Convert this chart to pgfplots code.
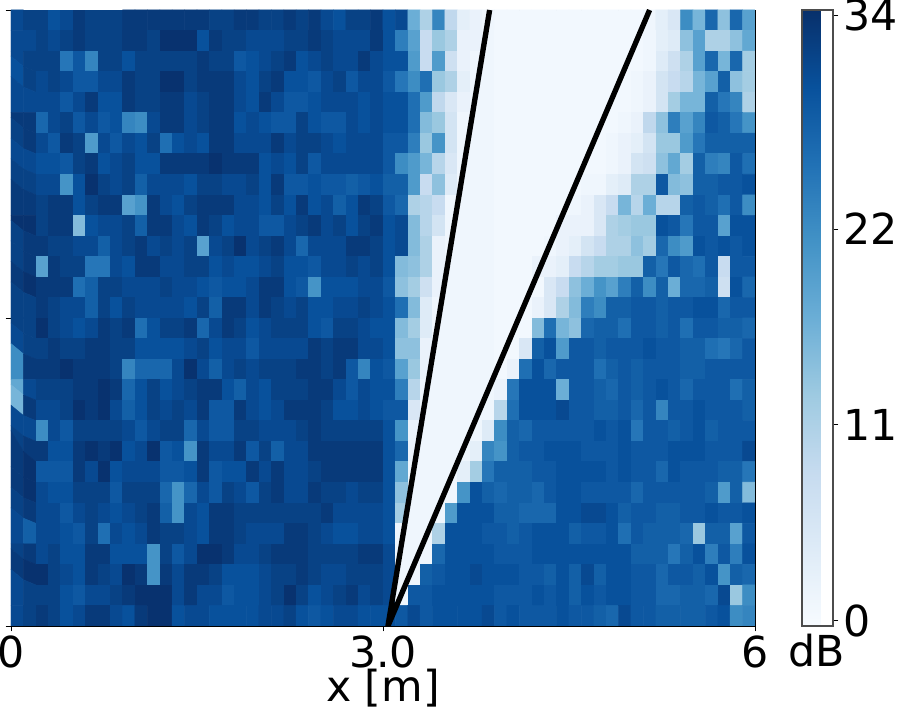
\documentclass[border=0pt]{standalone}
\usepackage{pgfplots}
\pgfplotsset{compat=1.18}
\usepackage{fontspec}
\setmainfont{DejaVu Sans}
\pgfplotsset{colormap={mplblues}{rgb255=(247,251,255) rgb255=(222,235,247) rgb255=(198,219,239) rgb255=(158,202,225) rgb255=(107,174,214) rgb255=(66,146,198) rgb255=(33,113,181) rgb255=(8,81,156) rgb255=(8,48,107)}}
\newcommand{\bigfont}{\fontsize{32}{36}\selectfont}
\begin{document}
\begin{tikzpicture}[x=1pt,y=1pt]
\path[use as bounding box] (0,0) rectangle (672.75,543);
\begin{axis}[
    at={(8.25pt,73.5pt)}, anchor=south west,
    scale only axis, width=558pt, height=462pt,
    xmin=0, xmax=6, ymin=0, ymax=30,
    xtick={0,3,6}, xticklabels={0,3.0,6},
    ytick={0,15,30}, yticklabels={},
    xtick pos=bottom, ytick pos=left,
    tick align=outside, major tick length=4pt,
    tick style={black, line width=0.6pt},
    axis line style={line width=0.6pt},
    tick label style={font=\bigfont},
    /pgf/number format/assume math mode=true,
    xlabel={x [m]}, xlabel style={font=\bigfont, yshift=6pt},
    colormap name=mplblues,
    point meta min=-0.3, point meta max=34.3,
    colorbar,
    colorbar style={
        at={(1.0632,1)}, anchor=north west,
        width=23.25pt, height=462pt,
        ytick={0,11,22,34},
        ytick pos=right, yticklabel pos=right,
        tick align=outside, major tick length=4pt,
        tick style={black, line width=0.6pt},
        axis line style={line width=0.8pt, black!70},
        tick label style={font=\bigfont},
        /pgf/number format/assume math mode=true,
    },
]
\addplot[matrix plot*, mesh/cols=60, mesh/rows=30, point meta=explicit]
  table[row sep=crcr, header=false, meta index=0,
        x expr={(mod(\coordindex,60)+0.5)/10},
        y expr={29.5-floor(\coordindex/60)}] {
31\\32\\32\\30\\31\\33\\32\\32\\32\\33\\33\\33\\33\\33\\33\\33\\32\\32\\33\\33\\32\\32\\33\\32\\33\\31\\30\\32\\32\\33\\30\\31\\17\\11\\23\\9\\3\\2\\1\\0.5\\0.5\\0.5\\0.5\\0.5\\0.5\\0.5\\0.5\\0.5\\0.5\\0.5\\0.5\\1\\3\\5\\22\\16\\27\\14\\27\\19\\
31\\31\\32\\31\\32\\33\\32\\32\\32\\33\\33\\32\\34\\34\\34\\30\\33\\32\\32\\31\\31\\31\\32\\32\\33\\32\\31\\31\\31\\33\\30\\24\\19\\8\\13\\11\\2\\2\\1\\0.5\\0.5\\0.5\\0.5\\0.5\\0.5\\0.5\\0.5\\0.5\\0.5\\0.5\\0.5\\1\\3\\4\\14\\19\\11\\11\\14\\18\\
31\\32\\32\\32\\25\\29\\23\\32\\32\\30\\32\\32\\32\\32\\32\\33\\32\\32\\29\\30\\31\\32\\33\\30\\31\\32\\31\\31\\33\\31\\30\\30\\20\\8\\20\\7\\2\\1\\1\\0.5\\0.5\\0.5\\0.5\\0.5\\0.5\\0.5\\0.5\\0.5\\0.5\\0.5\\0.5\\1\\4\\7\\11\\19\\27\\16\\27\\12\\
30\\32\\31\\32\\31\\29\\29\\31\\31\\33\\32\\32\\34\\34\\32\\33\\33\\33\\31\\30\\32\\33\\30\\30\\29\\31\\32\\29\\31\\31\\29\\25\\22\\26\\13\\11\\3\\1\\1\\0.5\\0.5\\0.5\\0.5\\0.5\\0.5\\0.5\\0.5\\0.5\\0.5\\0.5\\1\\2\\6\\8\\10\\16\\19\\28\\14\\12\\
31\\31\\31\\31\\29\\31\\33\\30\\30\\33\\32\\32\\33\\33\\31\\32\\33\\33\\31\\30\\33\\31\\29\\29\\30\\31\\31\\31\\30\\31\\30\\30\\26\\20\\9\\5\\2\\1\\1\\0.5\\0.5\\0.5\\0.5\\0.5\\0.5\\0.5\\0.5\\0.5\\0.5\\0.5\\1\\2\\6\\12\\16\\16\\28\\25\\23\\11\\
33\\33\\27\\31\\32\\29\\31\\29\\30\\23\\22\\31\\33\\33\\31\\32\\33\\33\\30\\31\\30\\29\\29\\32\\30\\29\\29\\31\\30\\31\\30\\30\\26\\15\\13\\6\\1\\1\\1\\0.5\\0.5\\0.5\\0.5\\0.5\\0.5\\0.5\\0.5\\0.5\\0.5\\1\\2\\9\\14\\24\\19\\23\\29\\28\\25\\21\\
32\\33\\31\\29\\33\\32\\20\\31\\29\\31\\30\\32\\26\\30\\31\\30\\33\\33\\31\\31\\31\\33\\31\\32\\32\\31\\30\\31\\31\\31\\29\\29\\24\\13\\21\\6\\1\\1\\1\\0.5\\0.5\\0.5\\0.5\\0.5\\0.5\\0.5\\0.5\\0.5\\1\\2\\3\\6\\13\\13\\20\\25\\28\\28\\28\\28\\
31\\31\\30\\30\\29\\32\\33\\30\\31\\32\\30\\30\\33\\33\\33\\33\\34\\33\\33\\33\\30\\31\\30\\32\\29\\31\\31\\31\\31\\31\\29\\22\\20\\16\\10\\5\\1\\1\\1\\0.5\\0.5\\0.5\\0.5\\0.5\\0.5\\0.5\\0.5\\0.5\\1\\2\\6\\7\\14\\18\\12\\28\\24\\23\\29\\26\\
32\\32\\31\\31\\21\\30\\34\\32\\31\\32\\28\\31\\31\\31\\30\\32\\32\\31\\31\\32\\30\\33\\29\\29\\30\\29\\29\\28\\29\\30\\28\\28\\20\\8\\14\\4\\1\\1\\1\\0.5\\0.5\\0.5\\0.5\\0.5\\0.5\\0.5\\1\\1\\3\\4\\11\\11\\29\\15\\14\\28\\28\\29\\29\\30\\
33\\33\\32\\33\\33\\30\\32\\33\\33\\19\\21\\33\\31\\30\\32\\33\\33\\33\\31\\31\\30\\32\\30\\33\\30\\31\\28\\30\\33\\32\\29\\27\\11\\10\\8\\1\\1\\1\\1\\0.5\\0.5\\0.5\\0.5\\0.5\\0.5\\1\\2\\5\\8\\16\\10\\17\\10\\10\\28\\29\\28\\26\\29\\22\\
34\\34\\32\\33\\33\\15\\30\\31\\31\\32\\28\\33\\33\\31\\30\\33\\32\\30\\31\\31\\29\\29\\31\\32\\33\\31\\32\\30\\32\\33\\30\\31\\15\\10\\6\\1\\1\\1\\1\\0.5\\0.5\\0.5\\0.5\\0.5\\2\\2\\2\\5\\11\\12\\13\\13\\30\\29\\25\\29\\29\\19\\30\\30\\
32\\33\\33\\32\\32\\31\\31\\28\\31\\32\\33\\31\\32\\31\\32\\19\\31\\32\\34\\31\\32\\33\\31\\27\\31\\31\\31\\33\\33\\32\\30\\31\\15\\11\\2\\1\\1\\1\\1\\0.5\\0.5\\0.5\\0.5\\1\\2\\3\\6\\8\\11\\11\\14\\12\\27\\22\\20\\30\\29\\30\\29\\30\\
32\\33\\19\\33\\32\\32\\25\\25\\31\\30\\33\\33\\31\\31\\32\\32\\30\\31\\30\\30\\31\\32\\30\\30\\29\\31\\31\\32\\31\\32\\30\\15\\14\\11\\2\\1\\1\\1\\1\\0.5\\0.5\\0.5\\2\\2\\3\\8\\10\\12\\12\\13\\13\\28\\25\\29\\27\\26\\29\\8\\29\\29\\
33\\34\\33\\33\\33\\26\\28\\32\\32\\31\\31\\31\\32\\31\\31\\30\\29\\30\\30\\31\\33\\33\\30\\29\\21\\30\\30\\30\\31\\31\\29\\14\\12\\7\\2\\1\\1\\1\\1\\0.5\\0.5\\0.5\\0.5\\5\\8\\14\\17\\21\\19\\24\\28\\22\\28\\17\\27\\27\\28\\7\\30\\27\\
32\\32\\33\\32\\31\\31\\28\\32\\30\\32\\31\\31\\31\\31\\30\\32\\28\\33\\33\\31\\33\\32\\31\\32\\30\\30\\31\\31\\32\\31\\30\\26\\15\\4\\1\\1\\1\\1\\1\\0.5\\0.5\\0.5\\2\\5\\11\\15\\24\\22\\28\\28\\29\\29\\28\\29\\29\\30\\30\\27\\29\\29\\
32\\32\\34\\32\\31\\30\\31\\33\\32\\33\\26\\30\\32\\32\\33\\27\\31\\33\\32\\30\\31\\32\\32\\32\\30\\29\\32\\32\\31\\30\\30\\15\\12\\4\\1\\1\\1\\1\\1\\0.5\\0.5\\0.5\\15\\26\\16\\14\\27\\28\\28\\26\\29\\29\\28\\29\\26\\29\\29\\28\\28\\27\\
31\\32\\32\\33\\32\\32\\33\\33\\32\\32\\30\\30\\30\\30\\31\\32\\30\\31\\31\\29\\31\\31\\31\\31\\33\\32\\33\\33\\31\\31\\30\\14\\14\\2\\1\\1\\1\\1\\1\\0.5\\0.5\\5\\28\\30\\20\\29\\29\\28\\29\\29\\29\\30\\29\\29\\28\\28\\26\\25\\27\\29\\
22\\33\\33\\33\\34\\33\\33\\33\\32\\23\\27\\27\\27\\31\\34\\31\\28\\31\\32\\31\\32\\32\\32\\33\\33\\32\\33\\29\\23\\30\\29\\19\\13\\2\\1\\1\\1\\1\\1\\0.5\\2\\26\\30\\27\\29\\29\\29\\26\\28\\29\\28\\29\\29\\29\\28\\28\\29\\29\\29\\29\\
18\\31\\32\\32\\32\\33\\33\\34\\33\\27\\30\\32\\30\\31\\32\\33\\33\\30\\28\\31\\30\\32\\32\\32\\33\\33\\31\\29\\31\\30\\30\\24\\10\\1\\1\\1\\1\\1\\1\\2\\25\\30\\30\\30\\17\\29\\29\\28\\27\\29\\28\\29\\30\\29\\27\\29\\29\\29\\26\\28\\
16\\33\\31\\31\\32\\34\\33\\34\\31\\28\\30\\32\\31\\32\\31\\33\\29\\29\\33\\31\\30\\31\\33\\33\\33\\32\\30\\30\\31\\30\\29\\29\\5\\1\\1\\1\\1\\1\\1\\10\\26\\30\\30\\30\\31\\29\\29\\28\\28\\29\\27\\29\\23\\29\\29\\30\\29\\29\\29\\28\\
31\\31\\22\\31\\29\\32\\32\\32\\32\\31\\29\\31\\32\\32\\27\\31\\29\\29\\32\\32\\31\\31\\31\\32\\33\\32\\32\\32\\32\\32\\30\\21\\2\\1\\1\\1\\1\\1\\4\\22\\28\\27\\29\\29\\29\\29\\29\\30\\29\\30\\25\\29\\29\\28\\29\\30\\28\\29\\29\\29\\
32\\33\\33\\30\\30\\33\\34\\33\\34\\30\\31\\34\\29\\30\\21\\33\\31\\31\\33\\29\\32\\28\\31\\31\\33\\33\\33\\33\\33\\33\\30\\27\\2\\1\\1\\1\\1\\3\\23\\21\\28\\29\\29\\30\\30\\30\\29\\29\\29\\30\\29\\29\\29\\30\\30\\30\\29\\29\\29\\31\\
33\\34\\29\\29\\29\\33\\31\\34\\30\\31\\31\\31\\29\\29\\30\\33\\29\\30\\30\\33\\31\\33\\31\\31\\32\\33\\33\\33\\33\\33\\30\\18\\1\\1\\1\\1\\3\\12\\25\\28\\28\\28\\29\\29\\30\\30\\30\\30\\29\\30\\29\\29\\27\\30\\29\\29\\29\\28\\28\\25\\
33\\34\\31\\30\\30\\32\\32\\32\\29\\32\\32\\32\\27\\21\\27\\31\\29\\32\\31\\29\\32\\33\\31\\31\\33\\32\\32\\31\\32\\32\\30\\14\\1\\1\\1\\1\\21\\30\\28\\27\\28\\28\\27\\29\\30\\30\\29\\29\\29\\29\\27\\29\\29\\29\\29\\29\\28\\20\\28\\15\\
32\\33\\31\\31\\29\\31\\32\\31\\30\\31\\32\\33\\28\\21\\31\\30\\33\\33\\32\\32\\32\\32\\32\\32\\32\\33\\31\\31\\31\\31\\30\\12\\1\\1\\1\\20\\30\\30\\30\\28\\28\\27\\27\\27\\30\\30\\31\\31\\30\\28\\29\\29\\28\\28\\29\\29\\30\\29\\29\\30\\
31\\28\\31\\31\\30\\29\\32\\26\\31\\30\\31\\33\\32\\32\\31\\30\\33\\33\\32\\31\\31\\31\\33\\33\\32\\31\\30\\30\\31\\31\\30\\1\\1\\1\\11\\30\\30\\30\\29\\29\\28\\29\\30\\30\\30\\28\\29\\29\\30\\26\\29\\28\\28\\28\\27\\13\\28\\28\\19\\29\\
32\\33\\31\\32\\30\\30\\33\\33\\30\\30\\30\\21\\32\\29\\31\\34\\34\\33\\31\\31\\32\\33\\33\\33\\32\\32\\32\\32\\33\\33\\31\\1\\1\\1\\27\\30\\30\\30\\30\\29\\29\\29\\30\\30\\30\\30\\30\\30\\30\\30\\28\\28\\28\\25\\28\\30\\24\\29\\24\\30\\
33\\34\\34\\32\\31\\30\\33\\32\\31\\34\\33\\21\\33\\31\\33\\33\\32\\30\\30\\30\\31\\32\\32\\33\\32\\31\\31\\32\\32\\32\\31\\1\\1\\28\\29\\30\\30\\31\\30\\30\\30\\29\\29\\28\\30\\28\\31\\28\\30\\30\\29\\29\\27\\29\\29\\28\\30\\21\\28\\27\\
31\\32\\32\\32\\30\\29\\31\\31\\32\\33\\34\\34\\34\\31\\33\\31\\31\\29\\30\\30\\31\\32\\34\\32\\30\\31\\32\\33\\31\\32\\31\\1\\29\\29\\30\\30\\30\\30\\30\\29\\29\\29\\30\\29\\30\\28\\30\\29\\30\\30\\29\\29\\27\\27\\28\\28\\27\\31\\13\\22\\
31\\32\\33\\32\\30\\31\\33\\33\\31\\30\\33\\34\\34\\30\\31\\31\\30\\30\\30\\30\\31\\31\\32\\30\\29\\30\\31\\31\\30\\30\\30\\29\\31\\29\\30\\30\\30\\30\\31\\29\\30\\29\\29\\29\\30\\29\\29\\28\\27\\31\\29\\29\\28\\28\\28\\28\\29\\30\\22\\23\\
};
\addplot[black, line width=4pt] coordinates {(3.86,30) (3.04,0) (5.15,30)};
\end{axis}
\node[font=\bigfont, anchor=base] at (612.75pt,43pt) {dB};
\end{tikzpicture}
\end{document}
